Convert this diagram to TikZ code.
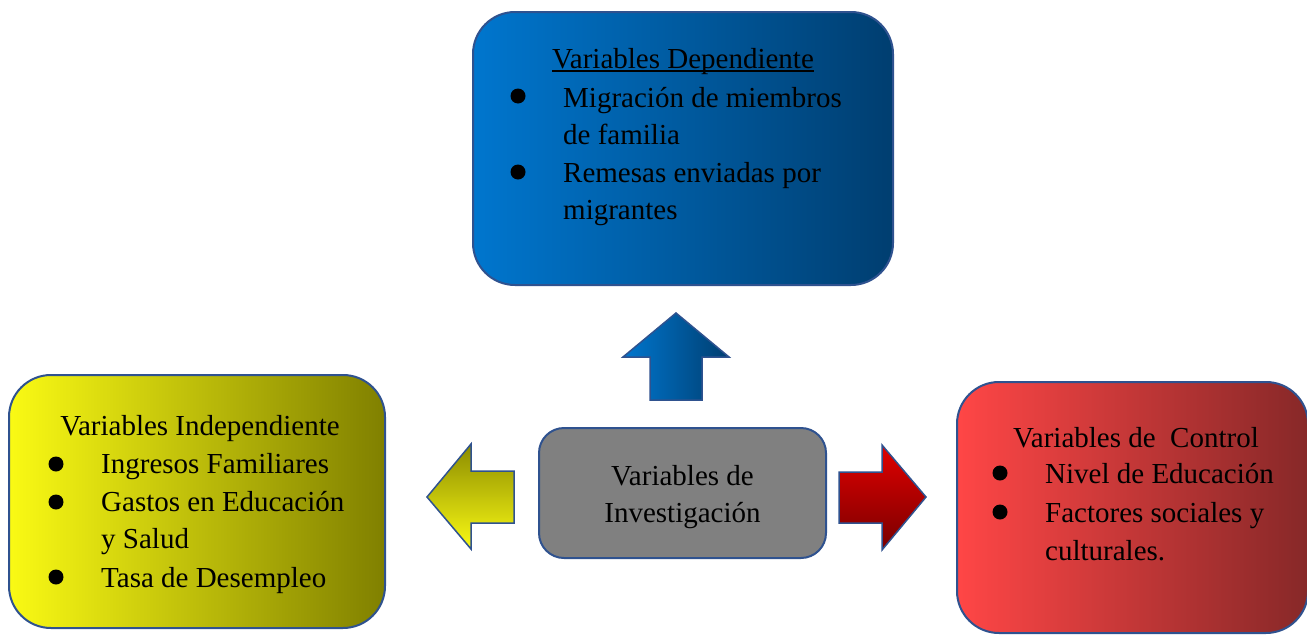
\documentclass[tikz,border=0pt]{standalone}
\usepackage{fontspec}
\setmainfont{Liberation Serif}
\usetikzlibrary{positioning}
\definecolor{edgeblue}{RGB}{47,82,143}
\definecolor{depL}{RGB}{0,118,206}
\definecolor{depR}{RGB}{0,62,112}
\definecolor{indL}{RGB}{250,250,20}
\definecolor{indR}{RGB}{128,128,0}
\definecolor{ctrlL}{RGB}{255,70,70}
\definecolor{ctrlR}{RGB}{135,40,40}
\definecolor{midgray}{RGB}{128,128,128}
\definecolor{redT}{RGB}{225,0,0}
\definecolor{redB}{RGB}{120,0,0}
\definecolor{olive}{RGB}{140,140,0}
\newcommand{\titleline}[1]{\setbox0\hbox{#1}\rlap{\rule[-3.5pt]{\wd0}{1.5pt}}\box0}
\tikzstyle{box} = [draw=edgeblue, line width=2pt, rectangle, rounded corners=42pt]
\tikzstyle{dot} = [circle, fill=black, minimum size=15pt, inner sep=0pt]
\tikzstyle{txt} = [anchor=base west, inner sep=0pt, font=\fontsize{29}{37}\selectfont]
\tikzstyle{ttl} = [anchor=base, inner sep=0pt, font=\fontsize{29}{37}\selectfont]
\tikzstyle{arr} = [draw=edgeblue, line width=1.5pt]

\begin{document}
\begin{tikzpicture}[x=1pt, y=-1pt]
	\useasboundingbox (0,0) rectangle (1307,635);
		\node (inv) [box, fill=midgray, rounded corners=25pt, minimum width=287pt, minimum height=130pt] at (682.5,493) {};
		\node (invT) [align=center, font=\fontsize{29}{37}\selectfont] at ([yshift=-4pt]inv.center) {Variables de\\Investigación};
		\node (dep) [box, left color=depL, right color=depR, minimum width=420pt, minimum height=273pt, above=141pt of inv, xshift=0.5pt] {};
		\node (ind) [box, left color=indL, right color=indR, minimum width=376pt, minimum height=253pt, left=152pt of inv, yshift=-8.5pt] {};
		\node (ctrl) [box, left color=ctrlL, right color=ctrlR, minimum width=351pt, minimum height=251pt, right=129pt of inv, yshift=-14.5pt] {};
		
		% flechas
		\path[arr, left color=depL, right color=depR] (650,400) -- (650,357) -- (623,357) -- (676,313) -- (729,357) -- (702,357) -- (702,400) -- cycle;
		\path[arr, top color=olive, bottom color=indL] (514,471) -- (471,471) -- (471,444) -- (427,497) -- (471,549) -- (471,523) -- (514,523) -- cycle;
		\path[arr, top color=redT, bottom color=redB] (839,472) -- (882,472) -- (882,445) -- (926,497) -- (882,550) -- (882,523) -- (839,523) -- cycle;
		
		% dependiente
		\node (depT) [ttl] at (683,68) {\titleline{Variables Dependiente}};
		\node (depD1) [dot] at (518,96) {};
		\node (dep1) [txt] at (563,107) {Migración de miembros};
		\node (dep1b) [txt] at (563,144) {de familia};
		\node (depD2) [dot] at (518,172) {};
		\node (dep2) [txt] at (563,182) {Remesas enviadas por};
		\node (dep2b) [txt] at (563,219) {migrantes};
		
		% independiente
		\node (indT) [ttl] at (200,435) {Variables Independiente};
		\node (indD1) [dot] at (56,464) {};
		\node (ind1) [txt] at (101,473) {Ingresos Familiares};
		\node (indD2) [dot] at (56,502) {};
		\node (ind2) [txt] at (101,511) {Gastos en Educación};
		\node (ind2b) [txt] at (101,548) {y Salud};
		\node (indD3) [dot] at (56,577) {};
		\node (ind3) [txt] at (101,587) {Tasa de Desempleo};
		
		% control
		\node (ctrlT) [ttl] at (1136,447) {Variables de~ Control};
		\node (ctrlD1) [dot] at (1000,473) {};
		\node (ctrl1) [txt] at (1045,483) {Nivel de Educación};
		\node (ctrlD2) [dot] at (1000,512) {};
		\node (ctrl2) [txt] at (1045,522) {Factores sociales y};
		\node (ctrl2b) [txt] at (1045,560) {culturales.};
	\end{tikzpicture}
\end{document}
